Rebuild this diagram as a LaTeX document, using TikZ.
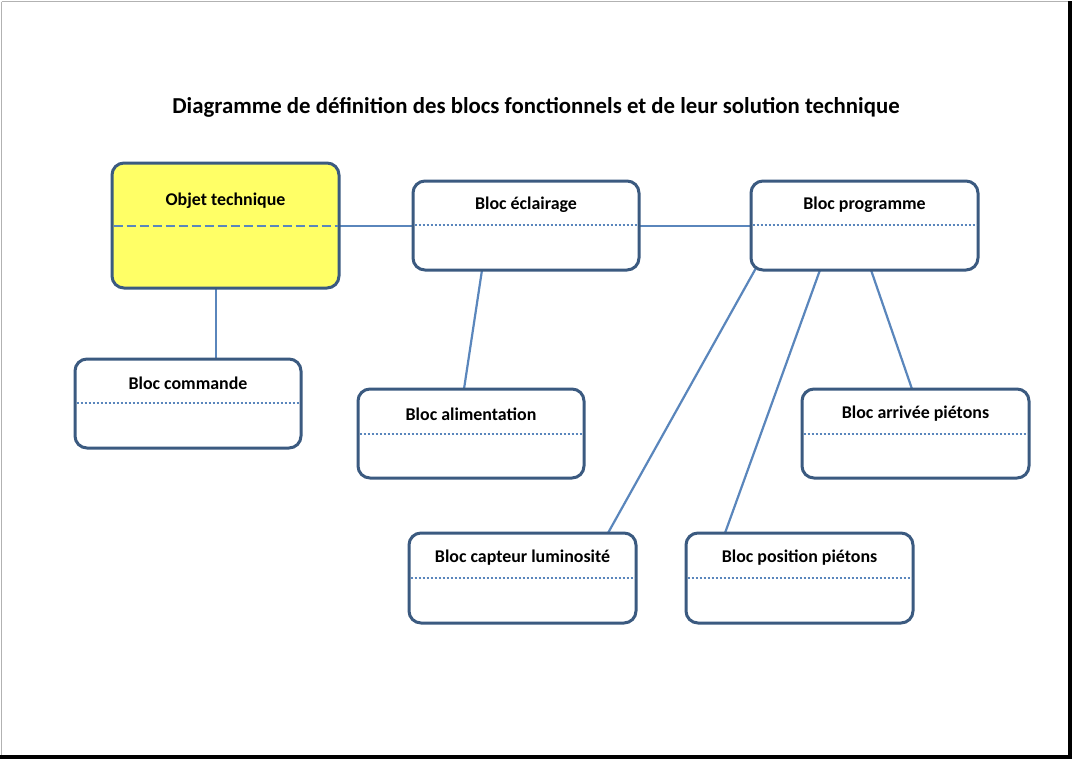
\documentclass[tikz,border=0pt]{standalone}
\usepackage{fontspec}
\setmainfont{Carlito}
\definecolor{bord}{HTML}{3B5A80}
\definecolor{lnk}{HTML}{5A86BC}
\definecolor{yel}{HTML}{FFFF66}
\begin{document}
\begin{tikzpicture}[x=1pt,y=-1pt,
  blk/.style={draw=bord,line width=3pt,rounded corners=12pt,fill=white},
  lbl/.style={font=\fontsize{17.9}{20}\selectfont\bfseries},
  sep/.style={draw=lnk,line width=2pt,dash pattern=on 2pt off 2pt},
  lk/.style={draw=lnk,line width=2.2pt}]
\useasboundingbox (0,0) rectangle (1075,761);
\fill[white] (0,0) rectangle (1075,761);
\draw[gray!60,line width=1pt] (1.5,1.5) -- (1.5,757) ;
\draw[gray!60,line width=1pt] (1.5,1.5) -- (1070,1.5);
\draw[black,line width=4pt] (1070,1) -- (1070,757) -- (0,757);
\node[font=\fontsize{22.8}{26}\selectfont\bfseries] (title) at (536,107) {Diagramme de définition des blocs fonctionnels et de leur solution technique};
% links
\coordinate (o1) at (339,226); \coordinate (e1) at (413,226);
\coordinate (e2) at (639,226); \coordinate (p1) at (751,226);
\coordinate (o2) at (216,288); \coordinate (c1) at (216,359);
\coordinate (e3) at (482,270); \coordinate (a1) at (464,389);
\coordinate (p2) at (756,268); \coordinate (l1) at (608,533);
\coordinate (p3) at (820,270); \coordinate (s1) at (725,533);
\coordinate (p4) at (871,270); \coordinate (r1) at (912,389);
\draw[lk] (o1)--(e1); \draw[lk] (e2)--(p1); \draw[lk] (o2)--(c1);
\draw[lk] (e3)--(a1); \draw[lk] (p2)--(l1); \draw[lk] (p3)--(s1); \draw[lk] (p4)--(r1);
% boxes
\newcommand{\blkbox}[7]{%
 \draw[blk,#7] (#1,#2) rectangle (#3,#4);
 \draw[sep,#6] (#1+1.5,#5) -- (#3-1.5,#5);
}
\blkbox{112}{163}{339}{288}{226}{dash pattern=on 9pt off 4pt,line width=2.5pt}{fill=yel}
\node[lbl] (obj) at (225.5,201) {Objet technique};
\blkbox{413}{181}{639}{270}{225}{}{}
\node[lbl] (ecl) at (526,205) {Bloc éclairage};
\blkbox{751}{181}{978}{270}{225}{}{}
\node[lbl] (prog) at (864.5,205) {Bloc programme};
\blkbox{75}{359}{301}{448}{403}{}{}
\node[lbl] (cmd) at (161,383) [anchor=center,xshift=27] {Bloc commande};
\blkbox{358}{389}{584}{478}{434}{}{}
\node[lbl] (ali) at (471,414) {Bloc alimentation};
\blkbox{802}{389}{1029}{478}{434}{}{}
\node[lbl] (arr) at (915.5,414) {Bloc arrivée piétons};
\blkbox{409}{533}{636}{623}{578}{}{}
\node[lbl] (cap) at (522.5,558) {Bloc capteur luminosité};
\blkbox{686}{533}{913}{623}{578}{}{}
\node[lbl] (pos) at (799.5,558) {Bloc position piétons};
\end{tikzpicture}
\end{document}
